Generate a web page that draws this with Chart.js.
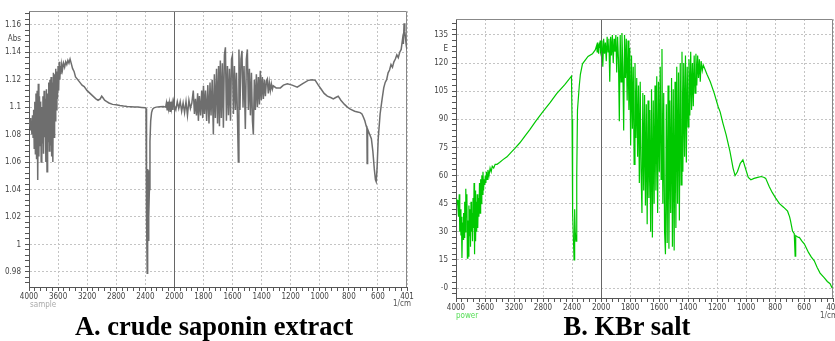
<!DOCTYPE html>
<html>
<head>
<meta charset="utf-8">
<script src="https://cdn.jsdelivr.net/npm/chart.js@4.4.1/dist/chart.umd.min.js"></script>
<style>
  html, body { margin: 0; padding: 0; width: 835px; height: 341px; overflow: hidden; background: #fff; }
  canvas { position: absolute; top: 0; }
  #chartA { left: 0; }
  #chartB { left: 426px; }
  .note { position: absolute; font: 8px "Liberation Sans Narrow", "DejaVu Sans Condensed", sans-serif; white-space: nowrap; }
  .caption { position: absolute; top: 313px; font: bold 26.5px/26px "Liberation Serif", "Times New Roman", serif; white-space: nowrap; transform: translateX(-50%); color: #000; }
</style>
</head>
<body>
<canvas id="chartA" width="420" height="307"></canvas>
<canvas id="chartB" width="415" height="318"></canvas>
<div class="note" style="left:30px; top:300px; color:#aaa;">sample</div>
<div class="note" style="left:393px; top:299px; color:#555;">1/cm</div>
<div class="note" style="left:456px; top:311px; color:#5d5;">power</div>
<div class="note" style="left:820px; top:311px; color:#555;">1/cm</div>
<div class="caption" style="left:214px;">A. crude saponin extract</div>
<div class="caption" style="left:627px;">B. KBr salt</div>
<script>
// wavenumber tick labels (scale changes at 2000 1/cm)
const xTickLabels = ['4000', '3600', '3200', '2800', '2400', '2000', '1800', '1600', '1400', '1200', '1000', '800', '600', '401'];

const yTicksA = [0.98, 1, 1.02, 1.04, 1.06, 1.08, 1.1, 1.12, 1.14, 1.16];
const yLabelsA = ['0.98', '1', '1.02', '1.04', '1.06', '1.08', '1.1', '1.12', '1.14', '1.16'];
const unitA = { value: 1.15, label: 'Abs' };

const yTicksB = [0, 15, 30, 45, 60, 75, 90, 105, 120, 135];
const yLabelsB = ['-0', '15', '30', '45', '60', '75', '90', '105', '120', '135'];
const unitB = { value: 127.5, label: 'E' };

// [wavenumber, absorbance]
const sampleSpectrum = [
  [4000,1.089],[3992,1.086],[3984,1.092],[3976,1.083],[3968,1.090],[3960,1.080],[3952,1.094],[3944,1.078],
  [3936,1.098],[3928,1.070],[3920,1.104],[3912,1.066],[3904,1.110],[3896,1.062],[3888,1.112],[3880,1.047],
  [3872,1.117],[3864,1.064],[3856,1.108],[3848,1.072],[3840,1.104],[3832,1.060],[3824,1.100],[3816,1.074],
  [3808,1.108],[3800,1.066],[3792,1.112],[3784,1.078],[3776,1.106],[3768,1.060],[3760,1.113],[3752,1.053],
  [3744,1.110],[3736,1.075],[3728,1.118],[3720,1.068],[3712,1.120],[3704,1.072],[3696,1.122],[3688,1.064],
  [3680,1.118],[3672,1.060],[3664,1.125],[3656,1.078],[3648,1.124],[3640,1.090],[3632,1.128],[3624,1.098],
  [3616,1.126],[3608,1.106],[3600,1.130],[3592,1.112],[3584,1.133],[3576,1.120],[3568,1.130],[3560,1.124],
  [3550,1.131],[3540,1.127],[3525,1.132],[3510,1.129],[3495,1.133],[3480,1.131],[3465,1.134],[3450,1.132],
  [3435,1.135],[3420,1.132],[3400,1.128],[3380,1.126],[3360,1.122],[3330,1.120],[3300,1.118],[3270,1.116],
  [3241,1.115],[3200,1.112],[3160,1.110],[3120,1.108],[3080,1.106],[3050,1.105],[3020,1.106],[3000,1.108],
  [2985,1.107],[2960,1.105],[2930,1.104],[2900,1.103],[2850,1.102],[2800,1.1018],[2750,1.1012],[2700,1.1008],
  [2650,1.1005],[2600,1.1003],[2550,1.1],[2500,1.1],[2450,1.0998],[2400,1.0995],[2390,1.099],[2386,1.085],
  [2380,1.02],[2374,0.979],[2368,1.055],[2362,1.003],[2356,1.054],[2350,1.020],[2344,1.040],[2336,1.075],
  [2326,1.090],[2314,1.096],[2300,1.0985],[2280,1.0995],[2250,1.1],[2200,1.1003],[2150,1.1005],[2120,1.1],
  [2110,1.103],[2100,1.098],[2090,1.104],[2080,1.099],[2070,1.103],[2060,1.097],[2050,1.104],[2040,1.099],
  [2030,1.103],[2020,1.098],[2010,1.104],[2000,1.101],
  [1990,1.098],[1980,1.104],[1970,1.099],[1960,1.104],[1950,1.097],[1940,1.103],[1930,1.096],[1920,1.104],
  [1910,1.094],[1900,1.105],[1890,1.099],[1880,1.103],[1870,1.112],[1862,1.095],[1855,1.106],[1848,1.094],
  [1840,1.110],[1835,1.090],[1828,1.108],[1820,1.094],[1812,1.112],[1805,1.092],[1800,1.1155],[1793,1.095],
  [1786,1.112],[1778,1.090],[1770,1.116],[1762,1.088],[1755,1.118],[1748,1.094],[1740,1.120],[1732,1.080],
  [1725,1.124],[1718,1.092],[1710,1.128],[1703,1.088],[1696,1.130],[1690,1.086],[1684,1.134],[1677,1.092],
  [1670,1.132],[1663,1.085],[1656,1.138],[1649,1.1436],[1642,1.090],[1635,1.130],[1628,1.094],[1621,1.128],
  [1614,1.090],[1607,1.135],[1601,1.1375],[1594,1.095],[1587,1.130],[1580,1.098],[1573,1.125],[1566,1.092],
  [1560,1.060],[1556,1.142],[1549,1.098],[1542,1.135],[1535,1.141],[1528,1.100],[1521,1.130],[1512,1.084],
  [1505,1.135],[1498,1.142],[1491,1.098],[1484,1.128],[1477,1.094],[1470,1.125],[1463,1.090],[1457,1.080],
  [1450,1.120],[1443,1.098],[1436,1.124],[1429,1.100],[1422,1.122],[1415,1.102],[1409,1.1265],[1402,1.105],
  [1395,1.122],[1388,1.106],[1381,1.120],[1374,1.108],[1367,1.119],[1361,1.1204],[1354,1.110],[1347,1.118],
  [1340,1.112],[1333,1.117],[1326,1.113],[1320,1.1155],[1300,1.114],[1271,1.114],[1250,1.116],[1223,1.117],
  [1190,1.116],[1155,1.1145],[1120,1.117],[1080,1.1195],[1051,1.120],[1031,1.1195],[1010,1.116],[990,1.113],
  [970,1.110],[948,1.108],[925,1.107],[907,1.106],[890,1.107],[873,1.108],[855,1.105],[830,1.102],
  [810,1.100],[790,1.0985],[760,1.097],[740,1.0965],[722,1.096],[710,1.095],[701,1.093],[690,1.090],
  [680,1.086],[676,1.085],[674,1.059],[671,1.084],[660,1.081],[645,1.077],[635,1.068],[625,1.055],
  [617,1.047],[612,1.0457],[606,1.055],[598,1.077],[585,1.095],[571,1.106],[560,1.114],[550,1.118],
  [540,1.120],[530,1.125],[520,1.127],[510,1.131],[500,1.129],[490,1.133],[480,1.135],[470,1.138],
  [460,1.136],[450,1.140],[440,1.142],[430,1.150],[425,1.146],[420,1.161],[415,1.155],[410,1.150],
  [405,1.145],[401,1.142]
];

// [wavenumber, energy]
const kbrSpectrum = [
  [4000,47.5],[3985,47],[3975,44],[3965,38],[3955,50],[3948,30],[3940,42],[3932,28],[3925,38],[3918,16],
  [3910,35],[3902,26],[3895,40],[3888,27],[3880,46],[3872,30],[3865,53],[3858,38],[3850,50],[3843,16],
  [3836,36],[3829,17],[3822,44],[3815,28],[3808,42],[3800,22],[3793,46],[3786,30],[3779,40],[3772,25],
  [3765,48],[3758,32],[3751,56],[3744,18],[3737,52],[3730,25],[3722,46],[3715,30],[3708,50],[3700,32],
  [3692,48],[3684,38],[3676,56],[3668,40],[3660,58],[3652,45],[3644,60],[3636,50],[3628,62],[3620,52],
  [3612,58],[3604,55],[3596,60],[3588,56],[3580,62],[3570,58],[3560,63],[3545,60],[3530,64],[3515,62],
  [3500,65],[3480,64],[3460,66],[3434,66],[3400,67],[3352,68.5],[3297,70],[3250,72],[3188,74.5],[3119,77.5],
  [3050,81],[2982,84.5],[2900,89],[2804,94],[2700,99],[2612,103.7],[2500,108.5],[2408,113],[2400,90],[2392,40],
  [2372,15],[2364,42],[2356,30],[2345,25],[2335,60],[2325,95],[2300,108],[2285,114],[2256,119.6],[2180,123.5],
  [2119,124.9],[2080,127],[2060,129.5],[2054,126],[2048,131],[2042,127],[2036,130],[2030,125],[2024,131],[2018,128],
  [2012,132],[2006,126],[2000,127],[1994,132],[1988,118],[1982,133],[1976,125],[1970,131],[1964,121],[1958,134],
  [1952,126],[1946,133],[1940,110],[1934,134],[1928,124],[1922,135],[1916,120],[1910,133],[1904,126],[1898,135],
  [1892,115],[1886,134],[1880,122],[1874,89],[1868,135],[1862,110],[1856,136],[1850,118],[1844,84],[1838,135],
  [1832,112],[1826,133],[1820,100],[1814,132],[1808,95],[1802,128],[1796,76],[1790,124],[1784,85],[1778,118],
  [1772,66],[1766,120],[1760,80],[1754,112],[1748,70],[1742,108],[1736,56],[1730,110],[1724,62],[1718,40],
  [1712,104],[1706,52],[1700,103],[1694,44],[1688,98],[1682,34],[1676,100],[1670,48],[1664,95],[1658,30],
  [1652,106],[1646,27],[1640,100],[1634,45],[1628,108],[1622,52],[1616,113],[1610,40],[1604,110],[1598,62],
  [1592,118],[1586,58],[1580,127.5],[1574,45],[1568,104],[1562,30],[1556,18],[1550,98],[1544,24],[1538,108],
  [1532,21],[1526,100],[1520,40],[1514,112],[1508,22],[1502,106],[1496,20],[1490,110],[1484,32],[1478,118],
  [1472,45],[1466,115],[1460,36],[1454,120],[1448,55],[1442,126],[1436,62],[1430,120],[1424,70],[1418,124],
  [1412,67],[1406,118],[1400,86],[1394,122],[1388,92],[1382,126],[1376,95],[1370,120],[1364,97],[1358,124],
  [1352,104],[1346,125],[1340,108],[1334,124],[1328,112],[1322,122],[1316,110],[1310,121],[1302,116],[1295,118.9],
  [1270,114],[1247,110],[1220,104],[1192,96.6],[1179,94],[1160,88],[1138,81.8],[1111,72.8],[1090,64],[1076,60],
  [1060,62],[1040,66.5],[1022,68.4],[1005,64],[985,59],[967,57.8],[945,58.5],[920,59],[895,59.5],[875,59],
  [865,58.5],[840,54],[820,51],[796,48],[770,45],[740,43],[714,41],[700,38],[694,36],[680,30.4],
  [668,29],[662,17],[658,28],[640,27],[633,27],[615,25],[598,23.5],[570,19],[550,16.5],[530,14.5],
  [510,11],[490,8],[462,5.6],[440,3.5],[421,2.3],[407,0]
];

const GRID = '#c4c4c4';
const AXIS = '#555';
const FONT = '"Liberation Sans Narrow", "DejaVu Sans Condensed", sans-serif';

Chart.defaults.font.family = FONT;
Chart.defaults.font.size = 8;
Chart.defaults.color = '#444';

// position on the x axis: 400 1/cm per division above 2000, 200 below
function toAxis(w) {
  return w >= 2000 ? (4000 - w) / 400 : 5 + (2000 - w) / 200;
}

function near(a, b) {
  return Math.abs(a - b) < 1e-6;
}

function steps(first, last, step) {
  const out = [];
  const n = Math.round((last - first) / step);
  for (let i = 0; i <= n; i++) out.push(first + i * step);
  return out;
}

function xAxis() {
  return {
    type: 'linear',
    min: 0,
    max: 13,
    afterBuildTicks: (axis) => { axis.ticks = steps(0, 13, 0.2).map(v => ({ value: v })); },
    afterFit: (axis) => { axis.height = 20; },
    ticks: {
      autoSkip: false,
      maxRotation: 0,
      padding: 1,
      callback: (v) => near(v, Math.round(v)) ? xTickLabels[Math.round(v)] : ''
    },
    grid: {
      color: (c) => c.tick && near(c.tick.value, Math.round(c.tick.value)) ? GRID : 'rgba(0,0,0,0)',
      tickColor: AXIS,
      tickLength: 4
    },
    border: { color: AXIS, dash: [2, 2] }
  };
}

function yAxis(min, max, majors, labels, minor, unit, width) {
  const labelFor = (v) => {
    const i = majors.findIndex(m => near(m, v));
    if (i >= 0) return labels[i];
    return near(v, unit.value) ? unit.label : '';
  };
  return {
    type: 'linear',
    min,
    max,
    afterBuildTicks: (axis) => {
      const first = majors[0] - minor * Math.floor((majors[0] - min) / minor);
      const vals = steps(first, first + minor * Math.floor((max - first) / minor), minor);
      vals.push(unit.value);
      axis.ticks = vals.map(v => ({ value: v }));
    },
    afterFit: (axis) => { axis.width = width; },
    ticks: { autoSkip: false, padding: 4, callback: labelFor },
    grid: {
      color: (c) => c.tick && majors.some(m => near(m, c.tick.value)) ? GRID : 'rgba(0,0,0,0)',
      tickColor: (c) => c.tick && near(c.tick.value, unit.value) ? 'rgba(0,0,0,0)' : AXIS,
      tickLength: 4
    },
    border: { color: AXIS, dash: [2, 2] }
  };
}

const frame = {
  id: 'frame',
  beforeDatasetsDraw(chart, args, opts) {
    const { ctx, chartArea: a, scales: { x } } = chart;
    const mark = Math.round(x.getPixelForValue(toAxis(2000))) + 0.5;
    ctx.save();
    ctx.lineWidth = 1;
    ctx.strokeStyle = opts.markColor;
    ctx.beginPath();
    ctx.moveTo(mark, a.top);
    ctx.lineTo(mark, a.bottom);
    ctx.stroke();
    ctx.strokeStyle = opts.frameColor;
    ctx.beginPath();
    ctx.moveTo(a.left, Math.round(a.top) + 0.5);
    ctx.lineTo(Math.round(a.right) - 0.5, Math.round(a.top) + 0.5);
    ctx.lineTo(Math.round(a.right) - 0.5, a.bottom);
    ctx.stroke();
    ctx.restore();
  }
};

function makeChart(id, spectrum, color, lineWidth, yOpts, padding) {
  return new Chart(document.getElementById(id), {
    type: 'line',
    data: {
      datasets: [{
        data: spectrum.map(([w, v]) => ({ x: toAxis(w), y: v })),
        borderColor: color,
        borderWidth: lineWidth,
        pointRadius: 0,
        tension: 0,
        fill: false
      }]
    },
    options: {
      responsive: false,
      animation: false,
      layout: { padding },
      plugins: {
        legend: { display: false },
        tooltip: { enabled: false },
        frame: { markColor: '#666', frameColor: '#888' }
      },
      scales: { x: xAxis(), y: yOpts }
    },
    plugins: [frame]
  });
}

makeChart('chartA', sampleSpectrum, '#6e6e6e', 1.5,
  yAxis(0.969, 1.170, yTicksA, yLabelsA, 0.004, unitA, 29),
  { top: 11, right: 13, left: 0, bottom: 0 });

makeChart('chartB', kbrSpectrum, '#00c800', 1.2,
  yAxis(-5.3, 143.5, yTicksB, yLabelsB, 3, unitB, 30),
  { top: 19, right: 5, left: 0, bottom: 0 });
</script>
</body>
</html>
